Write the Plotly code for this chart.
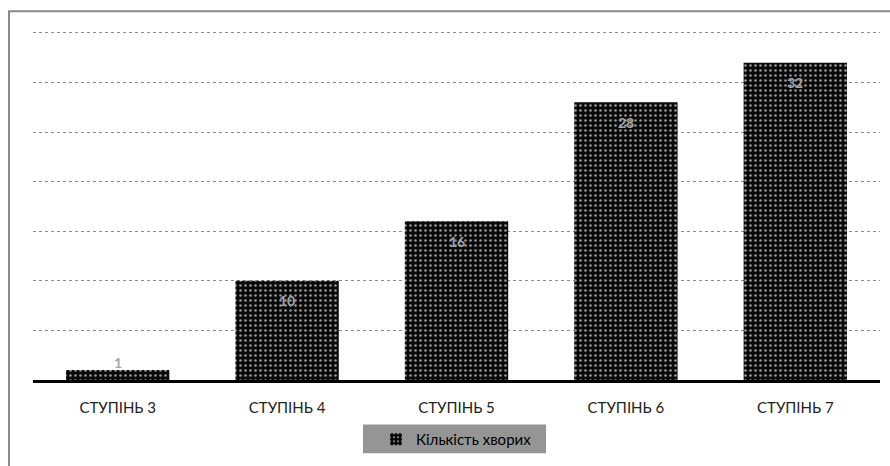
import plotly.graph_objects as go

# Chart data
categories = ["СТУПІНЬ 3", "СТУПІНЬ 4", "СТУПІНЬ 5", "СТУПІНЬ 6", "СТУПІНЬ 7"]
patients = [1, 10, 16, 28, 32]
series_name = "Кількість хворих"

W, H = 890, 466
ML, MR, MT, MB = 33, 10, 28, 83
PW, PH = W - ML - MR, H - MT - MB
Y_MAX = 35.5


def px_x(px):
    return (px - ML) / PW


def px_y(py):
    return (H - MB - py) / PH


fig = go.Figure()
fig.add_trace(go.Bar(
    x=categories,
    y=patients,
    name=series_name,
    marker=dict(
        color="black",
        line=dict(width=0),
        pattern=dict(shape=".", bgcolor="#0a0a0a", fgcolor="#9a9a9a",
                     size=5, solidity=0.2, fillmode="replace"),
    ),
    showlegend=True,
    hoverinfo="x+y",
))

# Value labels: inside near the top for tall bars, above for short ones
for cat, v in zip(categories, patients):
    inside = v >= 5
    fig.add_annotation(
        x=cat, y=v, text=f"<b>{v}</b>", showarrow=False,
        yanchor="middle", yshift=-20 if inside else 8,
        font=dict(family="Lato", size=14, color="#a6a6a6"),
    )

# Outer chart border and legend backdrop
fig.add_shape(type="rect", xref="paper", yref="paper",
              x0=px_x(9), x1=px_x(900), y0=px_y(480), y1=px_y(11),
              line=dict(color="#8a8a8a", width=2), fillcolor="rgba(0,0,0,0)",
              layer="below")
fig.add_shape(type="rect", xref="paper", yref="paper",
              x0=px_x(363), x1=px_x(546), y0=px_y(457), y1=px_y(428),
              line=dict(width=0), fillcolor="#959595", layer="below")

fig.update_layout(
    width=W, height=H,
    margin=dict(l=ML, r=MR, t=MT, b=MB),
    paper_bgcolor="white", plot_bgcolor="white",
    bargap=0.39,
    font=dict(family="Lato", size=14, color="#222222"),
    legend=dict(orientation="h", x=0.5, xanchor="center",
                y=px_y(443), yanchor="middle",
                bgcolor="rgba(0,0,0,0)",
                font=dict(family="Lato", size=15, color="black"),
                itemwidth=30),
    xaxis=dict(
        showline=True, linecolor="black", linewidth=3,
        ticks="outside", ticklen=12, tickcolor="rgba(0,0,0,0)",
        showgrid=False, zeroline=False,
        tickfont=dict(family="Lato", size=15, color="#222222"),
    ),
    yaxis=dict(
        range=[0, Y_MAX], tickvals=[5, 10, 15, 20, 25, 30, 35],
        showticklabels=False,
        showgrid=True, gridcolor="#8c8c8c", gridwidth=1, griddash="dot",
        zeroline=False, showline=False,
    ),
)

fig.write_html("out.html")
